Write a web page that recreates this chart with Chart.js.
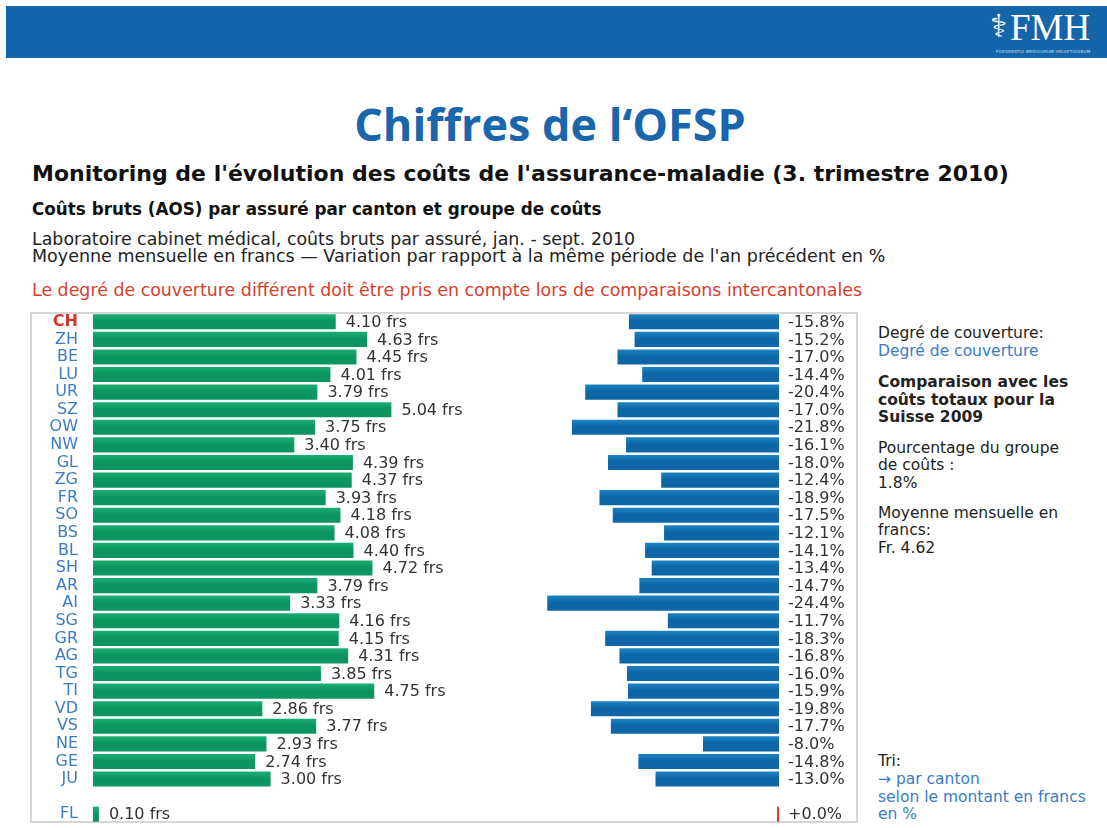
<!DOCTYPE html>
<html>
<head>
<meta charset="utf-8">
<script src="https://cdn.jsdelivr.net/npm/chart.js@4"></script>
<style>
  body { margin: 0; width: 1107px; height: 828px; position: relative; overflow: hidden; background: #fff; font-family: "DejaVu Sans", sans-serif; color: #222; }
  .t { position: absolute; white-space: nowrap; line-height: 1; }
  #header { position: absolute; left: 6px; top: 6px; width: 1101px; height: 52px; background: #1565ab; }
  #logo { position: absolute; left: 1010px; top: 9px; font-family: "Liberation Serif", serif; font-size: 37px; color: #fff; line-height: 1; }
  #staff { position: absolute; left: 990px; top: 10px; font-size: 32px; color: #fff; line-height: 1; }
  #motto { position: absolute; left: 996px; top: 50px; font-size: 4px; color: #cfe0f2; letter-spacing: 0.3px; }
  #title { position: absolute; left: 0; top: 101px; width: 1100px; text-align: center; font-family: "Open Sans", sans-serif; font-weight: bold; font-size: 45px; color: #1a66ad; line-height: 1; }
  #box { position: absolute; left: 30px; top: 312px; width: 828px; height: 511px; box-sizing: border-box; border: 2px solid #d6d6d6; }
  #left { position: absolute; left: 32px; top: 313px; }
  #right { position: absolute; left: 540px; top: 313px; }
  .side { left: 878px; font-size: 15.5px; }
  .blue { color: #3b7cc4; }
  .b { font-weight: bold; }
</style>
</head>
<body>
<div id="header"></div>
<div id="staff">⚕</div>
<div id="logo">FMH</div>
<div id="motto" class="t">FOEDERATIO MEDICORUM HELVETICORUM</div>
<div id="title">Chiffres de l‘OFSP</div>

<div class="t b" style="left:32px; top:163px; font-size:22px; color:#111;">Monitoring de l'évolution des coûts de l'assurance-maladie (3. trimestre 2010)</div>
<div class="t b" style="left:32px; top:201px; font-size:16.8px; color:#111;">Coûts bruts (AOS) par assuré par canton et groupe de coûts</div>
<div class="t" style="left:32px; top:231px; font-size:17.4px;">Laboratoire cabinet médical, coûts bruts par assuré, jan. - sept. 2010</div>
<div class="t" style="left:32px; top:248px; font-size:17.5px;">Moyenne mensuelle en francs — Variation par rapport à la même période de l'an précédent en %</div>
<div class="t" style="left:32px; top:282px; font-size:17.4px; color:#d8402c;">Le degré de couverture différent doit être pris en compte lors de comparaisons intercantonales</div>

<div id="box"></div>
<canvas id="left" width="508" height="510"></canvas>
<canvas id="right" width="316" height="510"></canvas>

<div class="t side" style="top:326px;">Degré de couverture:</div>
<div class="t side blue" style="top:344px;">Degré de couverture</div>
<div class="t side b" style="top:375px;">Comparaison avec les</div>
<div class="t side b" style="top:393px;">coûts totaux pour la</div>
<div class="t side b" style="top:410px;">Suisse 2009</div>
<div class="t side" style="top:441px;">Pourcentage du groupe</div>
<div class="t side" style="top:458px;">de coûts :</div>
<div class="t side" style="top:476px;">1.8%</div>
<div class="t side" style="top:506px;">Moyenne mensuelle en</div>
<div class="t side" style="top:523px;">francs:</div>
<div class="t side" style="top:541px;">Fr. 4.62</div>
<div class="t side" style="top:754px;">Tri:</div>
<div class="t side blue" style="top:772px;">→ par canton</div>
<div class="t side blue" style="top:790px;">selon le montant en francs</div>
<div class="t side blue" style="top:807px;">en %</div>

<script>
// Cantons, with an empty slot before FL (Liechtenstein) as in the original table
const cantons = ['CH', 'ZH', 'BE', 'LU', 'UR', 'SZ', 'OW', 'NW', 'GL', 'ZG', 'FR', 'SO', 'BS', 'BL', 'SH',
  'AR', 'AI', 'SG', 'GR', 'AG', 'TG', 'TI', 'VD', 'VS', 'NE', 'GE', 'JU', '', 'FL'];

// Moyenne mensuelle en francs
const francs = [4.10, 4.63, 4.45, 4.01, 3.79, 5.04, 3.75, 3.40, 4.39, 4.37, 3.93, 4.18, 4.08, 4.40, 4.72,
  3.79, 3.33, 4.16, 4.15, 4.31, 3.85, 4.75, 2.86, 3.77, 2.93, 2.74, 3.00, null, 0.10];

// Variation par rapport à l'an précédent en %
const variation = [-15.8, -15.2, -17.0, -14.4, -20.4, -17.0, -21.8, -16.1, -18.0, -12.4, -18.9, -17.5, -12.1, -14.1, -13.4,
  -14.7, -24.4, -11.7, -18.3, -16.8, -16.0, -15.9, -19.8, -17.7, -8.0, -14.8, -13.0, null, 0.0];

const FONT = '"DejaVu Sans", sans-serif';
const RED = '#d0392b';
const BLUE_TXT = '#3b7cc4';

// vertical shading inside each bar
const barFill = (top, bottom) => (ctx) => {
  const chart = ctx.chart;
  const y = chart.scales && chart.scales.y;
  if (!y || ctx.type !== 'data') return bottom;
  const cy = y.getPixelForValue(ctx.dataIndex);
  if (!isFinite(cy)) return bottom;
  const g = chart.ctx.createLinearGradient(0, cy - 8, 0, cy + 8);
  g.addColorStop(0, top);
  g.addColorStop(0.45, bottom);
  g.addColorStop(1, bottom);
  return g;
};

const makeLabels = (gap, format) => ({
  id: 'valueLabels',
  afterDatasetsDraw(chart) {
    const ctx = chart.ctx;
    const meta = chart.getDatasetMeta(0);
    const data = chart.data.datasets[0].data;
    ctx.save();
    ctx.font = '16px ' + FONT;
    ctx.fillStyle = '#333';
    ctx.textBaseline = 'middle';
    meta.data.forEach((bar, i) => {
      const v = data[i];
      if (v === null || v === undefined) return;
      ctx.fillText(format(v), Math.max(bar.x, bar.base) + gap, bar.y + 1);
    });
    ctx.restore();
  }
});

new Chart(document.getElementById('left'), {
  type: 'bar',
  data: {
    labels: cantons,
    datasets: [{
      data: francs,
      backgroundColor: barFill('#1cb077', '#0c9560'),
      barPercentage: 0.86,
      categoryPercentage: 1
    }]
  },
  options: {
    indexAxis: 'y',
    responsive: false,
    animation: false,
    plugins: { legend: { display: false }, tooltip: { enabled: false } },
    scales: {
      x: { display: false, min: 0, max: 7.55 },
      y: {
        grid: { display: false },
        border: { display: false },
        afterFit: (scale) => {
          scale.width = 61;
          scale.paddingTop = 0;
          scale.paddingBottom = 0;
        },
        ticks: {
          autoSkip: false,
          padding: 7,
          color: (c) => (c.index === 0 ? RED : BLUE_TXT),
          font: (c) => ({ family: FONT, size: 16, weight: c.index === 0 ? 'bold' : 'normal' })
        }
      }
    }
  },
  plugins: [makeLabels(10, (v) => v.toFixed(2) + ' frs')]
});

new Chart(document.getElementById('right'), {
  type: 'bar',
  data: {
    labels: cantons,
    datasets: [{
      data: variation,
      backgroundColor: (c) => (variation[c.dataIndex] === 0 ? '#e03a3a' : barFill('#1e86c6', '#0f66a6')(c)),
      minBarLength: 2,
      barPercentage: 0.86,
      categoryPercentage: 1
    }]
  },
  options: {
    indexAxis: 'y',
    responsive: false,
    animation: false,
    layout: { padding: { right: 77 } },
    plugins: { legend: { display: false }, tooltip: { enabled: false } },
    scales: {
      x: { display: false, min: -25.16, max: 0 },
      y: { display: false }
    }
  },
  plugins: [makeLabels(9, (v) => (v > 0 || Object.is(v, 0) ? '+' : '') + v.toFixed(1) + '%')]
});
</script>
</body>
</html>
